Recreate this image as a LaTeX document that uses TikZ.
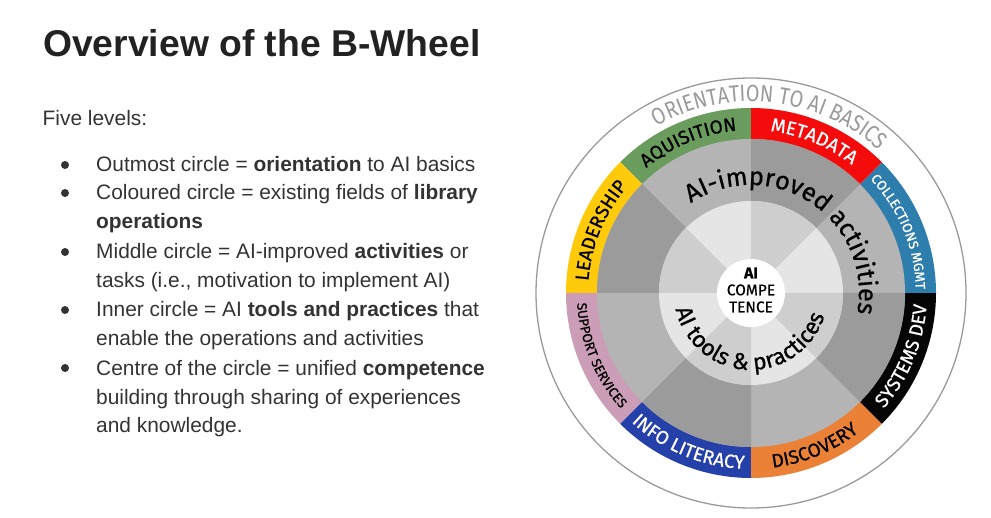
\documentclass[tikz,border=0pt]{standalone}
\usepackage{fontspec}
\setmainfont{Liberation Sans}
\newfontfamily\wheelfont[FakeBold=0.6]{Fira Sans}
\newfontfamily\wheelnarrowfont[FakeStretch=0.84]{Fira Sans}
\definecolor{textGrey}{HTML}{333333}
\definecolor{titleGrey}{HTML}{222222}
\definecolor{orientGrey}{HTML}{9A9A9A}
\definecolor{ringGreen}{HTML}{6A9C5E}
\definecolor{ringRed}{HTML}{F40C0C}
\definecolor{ringTeal}{HTML}{2E7EAD}
\definecolor{ringBlack}{HTML}{050505}
\definecolor{ringOrange}{HTML}{EA8137}
\definecolor{ringBlue}{HTML}{2540A9}
\definecolor{ringPink}{HTML}{CB9DB6}
\definecolor{ringYellow}{HTML}{FECA0A}
\definecolor{midLight}{HTML}{B4B4B4}
\definecolor{midDark}{HTML}{9B9B9B}
\definecolor{innerLight}{HTML}{E5E5E5}
\definecolor{innerDark}{HTML}{CECECE}
\usetikzlibrary{decorations.text}

\begin{document}
\begin{tikzpicture}[x=1pt, y=1pt]
  \tikzset{
    bodyline/.style={font=\fontsize{20.9}{29}\selectfont, text=textGrey, anchor=base west, inner sep=0pt, align=left},
    bulletdot/.style={circle, fill=textGrey, inner sep=0pt, minimum size=8pt},
    ringlabel/.style n args={3}{decorate, decoration={text along path, text align=center, text color=#1,
        text={|\wheelfont\fontsize{#2}{#2}\selectfont|#3}}},
  }
  \useasboundingbox (0,0) rectangle (991,517);

  % Title and intro
  \node[font=\bfseries\fontsize{37.3}{44}\selectfont, text=titleGrey, anchor=base west, inner sep=0pt] (title) at (43,460) {Overview of the B-Wheel};
  \node[bodyline] (intro) at (42.5,391) {Five levels:};

  % Bullet list (multi-line nodes sit on their last baseline)
  \node[bulletdot] (dot1) at (65,352) {};
  \node[bodyline] (lvl1) at (96,345) {Outmost circle = \textbf{orientation} to AI basics};
  \node[bulletdot] (dot2) at (65,324) {};
  \node[bodyline] (lvl2) at (96,288) {Coloured circle = existing fields of \textbf{library}\\\textbf{operations}};
  \node[bulletdot] (dot3) at (65,265) {};
  \node[bodyline] (lvl3) at (96,229) {Middle circle = AI-improved \textbf{activities} or\\tasks (i.e., motivation to implement AI)};
  \node[bulletdot] (dot4) at (65,207) {};
  \node[bodyline] (lvl4) at (96,171) {Inner circle = AI \textbf{tools and practices} that\\enable the operations and activities};
  \node[bulletdot] (dot5) at (65,149) {};
  \node[bodyline] (lvl5) at (96,84) {Centre of the circle = unified \textbf{competence}\\building through sharing of experiences\\and knowledge.};

  \begin{scope}[shift={(751,224)}]
    % Outer orientation circle
    \draw[orientGrey, line width=1.3pt] (0,0) circle[radius=215pt];
    \path[decorate, decoration={text along path, text align=center, text color=orientGrey,
        text={|\wheelnarrowfont\fontsize{23.5}{23.5}\selectfont|ORIENTATION TO AI BASICS}}]
      (135:191.5pt) arc[start angle=135, end angle=32.4, radius=191.5pt];

    % Coloured ring of library operations
    \fill[ringGreen] (0,0) -- (90:185pt) arc[start angle=90, end angle=135, radius=185pt] -- cycle;
    \fill[ringYellow] (0,0) -- (135:185pt) arc[start angle=135, end angle=180, radius=185pt] -- cycle;
    \fill[ringPink] (0,0) -- (180:185pt) arc[start angle=180, end angle=225, radius=185pt] -- cycle;
    \fill[ringBlue] (0,0) -- (225:185pt) arc[start angle=225, end angle=270, radius=185pt] -- cycle;
    \fill[ringOrange] (0,0) -- (270:185pt) arc[start angle=270, end angle=315, radius=185pt] -- cycle;
    \fill[ringBlack] (0,0) -- (315:185pt) arc[start angle=315, end angle=360, radius=185pt] -- cycle;
    \fill[ringTeal] (0,0) -- (0:185pt) arc[start angle=0, end angle=45, radius=185pt] -- cycle;
    \fill[ringRed] (0,0) -- (45:185pt) arc[start angle=45, end angle=90, radius=185pt] -- cycle;

    % Middle ring (activities)
    \fill[midLight] (0,0) circle[radius=154pt];
    \fill[midDark] (0,0) -- (45:154pt) arc[start angle=45, end angle=90, radius=154pt] -- cycle;
    \fill[midDark] (0,0) -- (135:154pt) arc[start angle=135, end angle=180, radius=154pt] -- cycle;
    \fill[midDark] (0,0) -- (225:154pt) arc[start angle=225, end angle=270, radius=154pt] -- cycle;
    \fill[midDark] (0,0) -- (315:154pt) arc[start angle=315, end angle=360, radius=154pt] -- cycle;

    % Inner ring (tools and practices)
    \fill[innerLight] (0,0) circle[radius=92pt];
    \fill[innerDark] (0,0) -- (45:92pt) arc[start angle=45, end angle=90, radius=92pt] -- cycle;
    \fill[innerDark] (0,0) -- (135:92pt) arc[start angle=135, end angle=180, radius=92pt] -- cycle;
    \fill[innerDark] (0,0) -- (225:92pt) arc[start angle=225, end angle=270, radius=92pt] -- cycle;
    \fill[innerDark] (0,0) -- (315:92pt) arc[start angle=315, end angle=360, radius=92pt] -- cycle;

    % Centre
    \fill[white] (0,0) circle[radius=34pt];
    \node[font=\wheelfont\fontsize{15.5}{17}\selectfont, align=center, inner sep=0pt] (core) at (0,3) {\textbf{AI}\\COMPE\\TENCE};

    % Labels of the coloured ring
    \path[ringlabel={black}{19}{AQUISITION}] (135:163pt) arc[start angle=135, end angle=90, radius=163pt];
    \path[ringlabel={white}{19}{METADATA}] (90:163pt) arc[start angle=90, end angle=45, radius=163pt];
    \path[ringlabel={white}{13.5}{COLLECTIONS MGMT}] (45:164.8pt) arc[start angle=45, end angle=0, radius=164.8pt];
    \path[ringlabel={black}{19}{LEADERSHIP}] (180:163pt) arc[start angle=180, end angle=135, radius=163pt];
    \path[ringlabel={black}{13.5}{SUPPORT SERVICES}] (180:174.2pt) arc[start angle=180, end angle=225, radius=174.2pt];
    \path[ringlabel={white}{19}{INFO LITERACY}] (225:176pt) arc[start angle=225, end angle=270, radius=176pt];
    \path[ringlabel={black}{19}{DISCOVERY}] (270:176pt) arc[start angle=270, end angle=315, radius=176pt];
    \path[ringlabel={white}{19}{SYSTEMS DEV}] (315:176pt) arc[start angle=315, end angle=360, radius=176pt];

    % Ring titles
    \path[ringlabel={black}{25.5}{AI-improved activities}] (130:108pt) arc[start angle=130, end angle=-17, radius=108pt];
    \path[ringlabel={black}{23}{AI tools {\&} practices}] (180:77pt) arc[start angle=180, end angle=355, radius=77pt];
  \end{scope}
\end{tikzpicture}
\end{document}
